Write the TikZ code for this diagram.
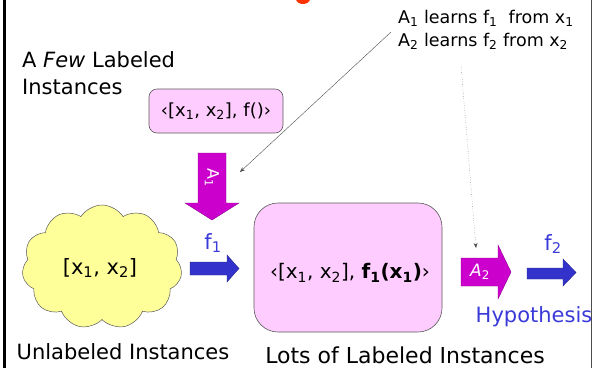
\documentclass[tikz,border=0pt]{standalone}
\usepackage{fontspec}
\setmainfont{DejaVu Sans}
\usetikzlibrary{shapes.symbols,arrows.meta}
\definecolor{pinkfill}{HTML}{FFCCFF}
\definecolor{magarrow}{HTML}{CC00CC}
\definecolor{bluearrow}{HTML}{3333CC}
\definecolor{bluetext}{HTML}{3A3AD8}
\definecolor{cloudfill}{HTML}{FFFF99}
\definecolor{titlered}{HTML}{FF3300}
\newcommand{\fs}[1]{\fontsize{#1}{#1}\selectfont}
\begin{document}
\begin{tikzpicture}[x=1pt,y=-1pt,
  lbl/.style={inner sep=0pt, text=black},
  pinkbox/.style={draw=black!65, fill=pinkfill, line width=0.6pt},
  magshape/.style={fill=magarrow, draw=magarrow!70!black, line width=0.4pt},
  blueshape/.style={fill=bluearrow, draw=bluearrow!70!black, line width=0.4pt},
  pointer/.style={draw=black!70, line width=0.4pt, -{Stealth[length=5pt,width=4pt]}}]
\useasboundingbox (0,0) rectangle (592,368);
% frame
\fill[black] (3,0) rectangle (6,368);
\draw[black!70, line width=0.8pt] (591,0) -- (591,368);
% remnant of title
\fill[titlered] (303,-1) ellipse [x radius=7, y radius=5];
% top-left label
\node[lbl, anchor=north west, align=left, font=\fs{21}] (few) at (22,51)
  {A \textit{Few} Labeled\\[6pt]Instances};
% small box
\draw[pinkbox, rounded corners=8pt] (149,89) rectangle (283,133);
\node[lbl, font=\fs{18}] (fbox) at (216,111) {‹[x\textsubscript{1}, x\textsubscript{2}], f()›};
% magenta down arrow A1
\fill[magshape] (198,153) -- (226,153) -- (226,203) -- (239,203) -- (212,220) -- (185,203) -- (198,203) -- cycle;
\coordinate (a1tip) at (240,172);
\node[lbl, text=white, rotate=-90, font=\fs{16}] (a1) at (212,178) {A\textsubscript{1}};
% cloud
\node[cloud, cloud puffs=11, cloud puff arc=115, cloud ignores aspect, draw=black!65, fill=cloudfill,
  line width=0.5pt, minimum width=160pt, minimum height=124pt, inner sep=0pt] (cloud) at (102,267) {};
\node[lbl, font=\fs{21}] (cloudtxt) at (100,268) {[x\textsubscript{1}, x\textsubscript{2}]};
\node[lbl, font=\fs{21}] (unl) at (123,352) {Unlabeled Instances};
% blue arrow f1
\fill[blueshape] (190,262) -- (227,262) -- (227,255) -- (239,268.5) -- (227,282) -- (227,275) -- (190,275) -- cycle;
\node[lbl, text=bluetext, font=\fs{21}] (f1) at (213,243) {f\textsubscript{1}};
% big box
\draw[pinkbox, rounded corners=24pt] (254,203) rectangle (442,332);
\node[lbl, font=\fs{20}] (bigtxt) at (350,273)
  {‹[x\textsubscript{1}, x\textsubscript{2}], \textbf{f\textsubscript{1}(x\textsubscript{1})}›};
\node[lbl, font=\fs{22}] (lots) at (405,355) {Lots of Labeled Instances};
% magenta arrow A2
\fill[magshape] (461,258) -- (498,258) -- (498,245) -- (511,272) -- (498,299) -- (498,286) -- (461,286) -- cycle;
\coordinate (a2tip) at (476,248);
\node[lbl, text=white, font=\fs{17}] (a2) at (480,272) {\textit{A}\textsubscript{2}};
% blue arrow f2
\fill[blueshape] (527,268) -- (563,268) -- (563,259) -- (576,272.5) -- (563,286) -- (563,279) -- (527,279) -- cycle;
\node[lbl, text=bluetext, font=\fs{21}] (f2) at (553,244) {f\textsubscript{2}};
\node[lbl, text=bluetext, font=\fs{21}] (hyp) at (534,317) {Hypothesis};
% annotation
\node[lbl, anchor=north west, align=left, font=\fs{17.5}] (note) at (398,10)
  {A\textsubscript{1} learns f\textsubscript{1}\ \ from x\textsubscript{1}\\[5pt]A\textsubscript{2} learns f\textsubscript{2} from x\textsubscript{2}};
\coordinate (n1) at (391,32);
\coordinate (n2) at (461,65);
\draw[pointer] (n1) -- (a1tip);
\draw[pointer, dotted] (n2) -- (a2tip);
\end{tikzpicture}
\end{document}
